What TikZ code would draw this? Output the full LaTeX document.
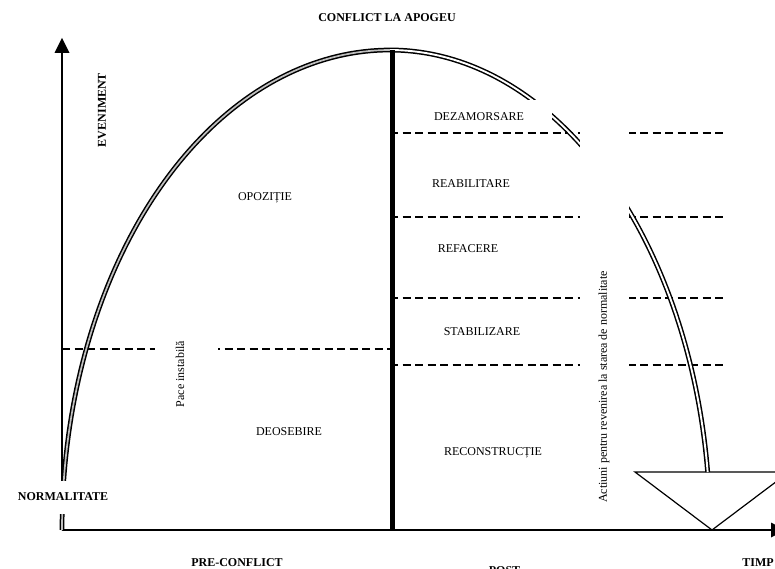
\documentclass[tikz,border=0pt]{standalone}
\usepackage{fontspec}
\setmainfont{Liberation Serif}
\begin{document}
\begin{tikzpicture}[x=1pt,y=-1pt,
  lbl/.style={font=\fontsize{12}{14}\selectfont, inner sep=0pt},
  blbl/.style={font=\fontsize{12}{14}\selectfont\bfseries, inner sep=0pt},
  axisline/.style={line width=1.3pt},
  phase/.style={dashed, dash pattern=on 8pt off 4.5pt, line width=1.2pt},
  riseline/.style={draw=black, line width=1.5pt, double=black!25, double distance=1.7pt},
  fallline/.style={draw=black, line width=1.5pt, double=white, double distance=1.9pt},
  mask/.style={fill=white}]
\useasboundingbox (0,0) rectangle (775,569);
\clip (0,0) rectangle (775,569);

% axes
\coordinate (O) at (62,530);
\coordinate (ytop) at (62,38);
\coordinate (xend) at (785,530);
\draw[axisline] (O) -- (62,52);
\fill (54.5,53) -- (ytop) -- (69.5,53) -- cycle;
\draw[axisline] (O) -- (771,530);
\fill (771,522.5) -- (xend) -- (771,537.5) -- cycle;

% phase boundaries
\draw[phase] (62,349) -- (390,349);
\foreach \yy in {133,217,298,365}
  \draw[phase] (390,\yy) -- (727,\yy);

% rise of the conflict
\draw[riseline] plot[domain=180:90, samples=80] ({390+328*cos(\x)}, {530-480*sin(\x)});

% return to normality: curved shaft and arrow head
\coordinate (hl) at (635,472);
\coordinate (hr) at (789,472);
\coordinate (tip) at (712,530);
\draw[line width=1.2pt, fill=white, line join=miter] (hl) -- (tip) -- (hr) -- cycle;
\draw[fallline] plot[domain=90:6.94, samples=80] ({390+320*cos(\x)}, {530-480*sin(\x)});

% peak divider
\draw[line width=5pt] (392,50) -- (392,530);

% label backgrounds
\fill[mask] (406,100) rectangle (552,128);
\fill[mask] (580,120) rectangle (629,520);
\fill[mask] (155,338) rectangle (218,410);
\fill[mask] (10,481) rectangle (116,514);

% labels
\node[blbl] (apogeu) at (387,18) {CONFLICT LA APOGEU};
\node[blbl, rotate=90] (even) at (102,110) {EVENIMENT};
\node[lbl] (opoz) at (265,198) {OPOZIȚIE};
\node[lbl, rotate=90] (pace) at (180,374) {Pace instabilă};
\node[lbl] (deos) at (289,432) {DEOSEBIRE};
\node[blbl] (norm) at (63,497) {NORMALITATE};
\node[blbl] (pre) at (237,563) {PRE-CONFLICT};
\node[blbl] (post) at (506,571) {POST-};
\node[blbl] (timp) at (758,563) {TIMP};
\node[lbl] (dez) at (479,117) {DEZAMORSARE};
\node[lbl] (reab) at (471,184) {REABILITARE};
\node[lbl] (ref) at (468,249) {REFACERE};
\node[lbl] (stab) at (482,332) {STABILIZARE};
\node[lbl] (recon) at (493,453) {RECONSTRUCȚIE};
\node[lbl, rotate=90] (act) at (604,387) {Actiuni pentru revenirea la starea de normalitate};
\end{tikzpicture}
\end{document}
